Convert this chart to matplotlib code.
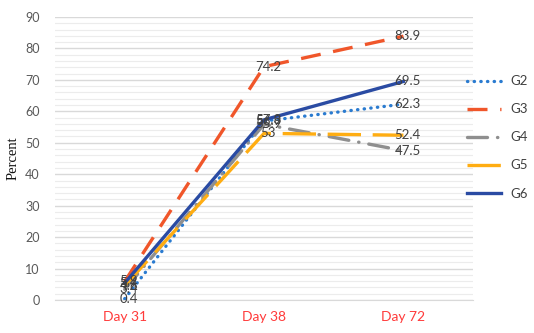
import matplotlib
matplotlib.use("Agg")
import matplotlib.pyplot as plt
from matplotlib.ticker import MultipleLocator

days = ["Day 31", "Day 38", "Day 72"]
groups = ["G2", "G3", "G4", "G5", "G6"]
g2 = [0.4, 56.9, 62.3]
g3 = [5.9, 74.2, 83.9]
g4 = [3.4, 55.9, 47.5]
g5 = [4.6, 53.0, 52.4]
g6 = [5.4, 57.3, 69.5]

series = [g2, g3, g4, g5, g6]
colors = ["#2a7bd0", "#f0562a", "#8f8f8f", "#ffad12", "#2a4ba3"]
styles = [(0, (0.1, 1.9)), (0, (6, 3.8)), (0, (6, 3, 0.1, 3)), (0, (10, 3.5)), "-"]
caps = ["round", "butt", "round", "butt", "butt"]

plt.rcParams["font.family"] = ["Lato", "DejaVu Sans"]
fig = plt.figure(figsize=(5.34, 3.33), dpi=100)
ax = fig.add_axes([0.103, 0.099, 0.783, 0.85])

x = list(range(len(days)))
lines = []
for name, vals, c, ls, cap in zip(groups, series, colors, styles, caps):
    ln, = ax.plot(x, vals, color=c, lw=2.4, linestyle=ls, dash_capstyle=cap,
                  label=name, zorder=3)
    lines.append(ln)
    for xi, v in zip(x, vals):
        ax.text(xi + 0.03, v, f"{v:g}", ha="center", va="center",
                fontsize=9.5, color="#404040", zorder=5)

ax.set_xlim(-0.5, 2.5)
ax.set_ylim(0, 90)
ax.yaxis.set_major_locator(MultipleLocator(10))
ax.yaxis.set_minor_locator(MultipleLocator(2))
ax.grid(axis="y", which="major", color="#d9d9d9", lw=1.0)
ax.grid(axis="y", which="minor", color="#ececec", lw=0.8)
ax.set_axisbelow(True)
for s in ["top", "right", "left"]:
    ax.spines[s].set_visible(False)
ax.spines["bottom"].set_color("#d9d9d9")
ax.tick_params(axis="both", which="both", length=0)
ax.tick_params(axis="y", labelsize=9, labelcolor="#595959", pad=11)
ax.set_xticks(x)
ax.set_xticklabels(days)
ax.tick_params(axis="x", labelsize=10, labelcolor="#ff3b3b", pad=8)
ax.set_ylabel("Percent", family="Liberation Serif", fontsize=10.5, color="#111111", labelpad=4)

fig.legend(handles=lines, labels=groups, loc="upper left",
           bbox_to_anchor=(0.865, 0.79), frameon=False, fontsize=9.5,
           handlelength=2.6, handletextpad=0.7, labelspacing=1.22,
           labelcolor="#404040", borderaxespad=0)

fig.savefig("out.png", dpi=100)
